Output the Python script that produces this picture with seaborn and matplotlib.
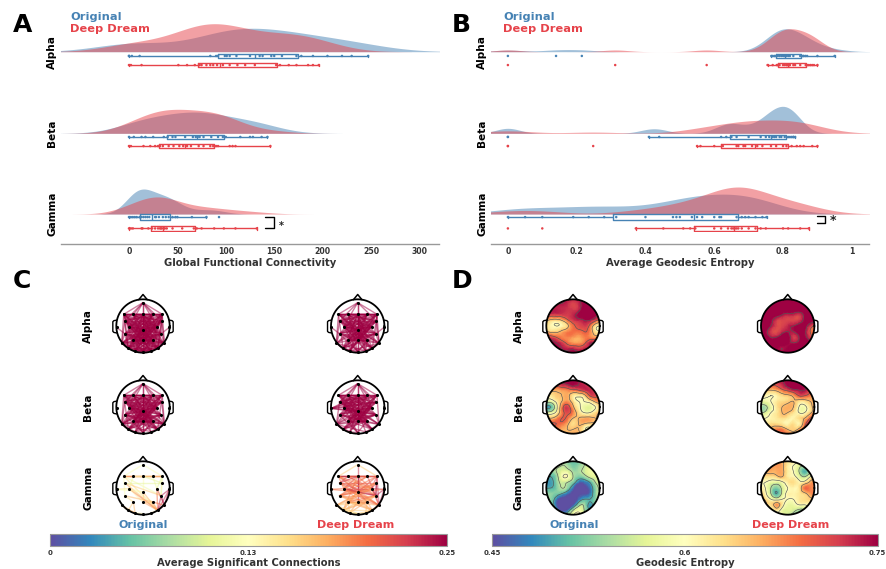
import numpy as np
import pandas as pd
import matplotlib
matplotlib.use('Agg')
import matplotlib.pyplot as plt
import matplotlib.tri as mtri
import seaborn as sns

# panel A values
gfc_alpha_orig = [0, 0, 3, 11, 84, 90, 92, 99, 101, 104, 111, 125, 135, 138, 147, 150, 158, 173, 178, 190, 205, 220, 230, 247]
gfc_alpha_dream = [0, 2, 13, 51, 60, 68, 73, 75, 80, 84, 87, 91, 97, 104, 112, 120, 130, 152, 156, 165, 173, 185, 190, 196]
gfc_beta_orig = [0, 5, 13, 17, 25, 36, 40, 45, 48, 58, 66, 69, 71, 73, 77, 85, 92, 97, 100, 115, 125, 128, 137, 143]
gfc_beta_dream = [0, 2, 15, 22, 27, 30, 32, 35, 41, 46, 52, 56, 60, 64, 72, 77, 84, 87, 90, 92, 104, 107, 110, 146]
gfc_gamma_orig = [0, 2, 4, 6, 8, 11, 11.5, 13, 15, 17, 19, 21, 27, 28, 31, 35, 38, 41, 45, 48, 50, 65, 80, 93]
gfc_gamma_dream = [0, 2, 4, 13, 14, 20, 24, 27, 30, 32, 33, 34, 36, 37, 39, 45, 55, 67, 70, 75, 88, 98, 110, 132]

# panel B values
age_alpha_orig = [0, .14, .215, .766, .77, .775, .78, .785, .79, .795, .80, .803, .807, .81, .815, .82, .83, .85, .858, .86, .865, .87, .90, .95]
age_alpha_dream = [0, .312, .578, .755, .77, .782, .785, .79, .80, .805, .81, .812, .818, .82, .83, .835, .85, .866, .87, .875, .88, .885, .89, .90]
age_beta_orig = [0, 0, .41, .44, .62, .635, .65, .665, .70, .735, .75, .76, .77, .775, .78, .79, .795, .805, .815, .82, .825, .83, .83, .835]
age_beta_dream = [0, 0, .248, .55, .56, .60, .625, .665, .67, .685, .69, .71, .725, .74, .765, .78, .80, .81, .825, .84, .85, .86, .885, .90]
age_gamma_orig = [0, .05, .10, .19, .235, .28, .315, .40, .48, .49, .50, .535, .55, .565, .60, .615, .62, .665, .68, .69, .70, .72, .74, .752]
age_gamma_dream = [0, .10, .372, .452, .51, .53, .545, .60, .62, .64, .65, .655, .66, .665, .67, .68, .70, .72, .735, .75, .80, .815, .85, .875]

gfc_bw = [(1.0, 1.05), (1.15, 1.15), (.9, 1.05)]
age_bw = [(.34, .36), (.28, .55), (.75, .7)]
gfc_peak_px = [28, 24, 25]
age_peak_px = [23, 27, 27]

bands = ['Alpha', 'Beta', 'Gamma']
conditions = ['Original', 'Deep Dream']
palette = {'Original': 'steelblue', 'Deep Dream': '#e6434a'}

gfc_ticks = [0, 50, 100, 150, 200, 250, 300]
age_ticks = [0, .2, .4, .6, .8, 1]
age_tick_labels = ['0', '0.2', '0.4', '0.6', '0.8', '1']

# electrodes on the head, unit radius
elec_x = [0, -.72, -.36, 0, .36, .72, -.68, .7, -.99, -.52, .52, .99, 0, -.68, .68, -.36, 0, .36, -.8, .8, -.55, .55, -.3, 0, .3]
elec_y = [.875, .44, .44, .44, .44, .44, .19, .19, -.05, -.02, -.02, -.05, -.15, -.29, -.29, -.52, -.52, -.52, -.65, -.65, -.84, -.84, -.93, -.96, -.93]

# significant connections, targets listed per electrode
alpha_orig_links = [[1, 2, 3, 4, 5, 6, 7, 9, 12, 14], [2, 3, 4, 5, 7, 9, 10, 12, 14, 15, 17, 18, 19, 20, 21, 22, 24], [3, 4, 5, 7, 10, 12, 14, 16, 19, 21, 23],
                    [4, 5, 6, 9, 10, 12, 13, 14, 15, 16, 17, 19, 20, 21, 22, 23, 24], [5, 6, 9, 12, 13, 15, 16, 18, 20, 21, 22, 23],
                    [6, 7, 9, 10, 12, 13, 14, 15, 16, 17, 18, 19, 20, 21, 22, 24], [7, 10, 12, 14, 17, 18, 19, 20, 21, 24], [9, 12, 13, 15, 16, 18, 19, 20, 21, 22, 23],
                    [13], [10, 12, 14, 16, 17, 19, 21, 23, 24], [12, 13, 15, 16, 18, 20, 22, 23], [14],
                    [13, 14, 15, 16, 17, 18, 19, 20, 21, 22, 23, 24], [14, 16, 17, 18, 19, 20, 21, 23, 24], [15, 16, 18, 19, 20, 21, 22, 23],
                    [16, 17, 19, 20, 21, 22, 23, 24], [17, 18, 19, 20, 21, 22, 24], [18, 19, 20, 21, 22, 23, 24], [19, 20, 22, 23, 24],
                    [21, 22, 23, 24], [21, 22, 23, 24], [22, 23, 24], [23, 24], [24], []]
alpha_dream_links = [[1, 3, 5, 6, 7, 9, 12], [2, 3, 4, 5, 7, 10, 12, 14, 17, 18, 19, 20, 21], [3, 4, 5, 7, 12, 14, 16, 19, 23],
                     [4, 5, 6, 9, 10, 12, 13, 14, 15, 16, 17, 20, 21, 23, 24], [5, 6, 9, 12, 13, 15, 16, 18, 22],
                     [6, 7, 9, 12, 13, 14, 15, 16, 18, 19, 20, 21, 22], [7, 10, 12, 14, 17, 18, 19, 21, 24], [9, 12, 13, 15, 16, 18, 19, 20, 22],
                     [13], [10, 12, 14, 16, 17, 21, 23], [12, 13, 15, 16, 20, 22], [14],
                     [13, 14, 15, 16, 17, 19, 20, 21, 22, 23, 24], [14, 16, 17, 18, 21, 23], [15, 16, 18, 19, 20, 23],
                     [16, 17, 20, 22, 23], [17, 19, 21, 22, 24], [19, 20, 23, 24], [20, 22, 24], [21, 22, 24], [22, 23], [23, 24], [23], [], []]
beta_orig_links = [[1, 2, 3, 4, 5, 6, 7, 9, 10, 12], [2, 3, 4, 5, 7, 9, 10, 12, 14, 16, 18, 19, 20, 21], [3, 4, 6, 9, 10, 12, 14, 16, 17, 21],
                   [4, 5, 6, 9, 10, 12, 13, 14, 15, 16, 17, 18, 19, 23], [6, 7, 9, 10, 12, 13, 15, 16, 18, 20],
                   [6, 9, 12, 13, 15, 16, 18, 19, 20, 21, 22], [7, 10, 12, 14, 17, 18, 19, 21, 24], [9, 12, 13, 15, 16, 18, 19, 20],
                   [], [10, 12, 14, 16, 17, 19, 21, 23], [12, 13, 15, 16, 18, 20, 22], [],
                   [13, 14, 15, 16, 17, 18, 19, 20, 21, 22, 24], [14, 16, 17, 18, 19, 21, 23], [15, 16, 18, 19, 20, 23],
                   [16, 17, 19, 21, 23], [17, 18, 19, 20, 21, 23], [18, 19, 20, 22, 23], [20, 22, 24], [21, 22, 24], [22], [24], [23], [], []]
beta_dream_links = [[1, 2, 3, 4, 5, 6, 7, 9, 10, 12], [2, 3, 4, 5, 7, 10, 12, 14, 16, 19, 21], [3, 4, 6, 9, 10, 12, 14, 16, 17],
                    [4, 5, 6, 8, 9, 10, 12, 13, 14, 15, 16, 17, 18, 23], [6, 8, 9, 10, 12, 13, 15, 16, 18],
                    [6, 8, 9, 12, 13, 15, 16, 19, 20, 22], [7, 10, 12, 14, 17, 18, 19, 21], [8, 9, 12, 13, 15, 16, 20],
                    [9, 12, 14], [10, 12, 14, 16, 17, 21, 23], [12, 13, 15, 16, 18, 20, 22], [],
                    [13, 14, 15, 16, 17, 18, 19, 20, 21, 22, 24], [14, 16, 17, 18, 19, 23], [15, 16, 18, 19, 20],
                    [16, 17, 21, 23], [17, 19, 20, 21], [18, 20, 23], [20, 22, 24], [21, 24], [22], [24], [23], [], []]
gamma_orig_links = [[1, 5], [2, 3, 4, 5, 13, 14, 21], [3, 4, 9], [4, 5, 7, 12], [5, 10], [14, 10, 7], [14, 21, 7], [14], [9, 12], [12, 16, 21, 17],
                    [14, 19, 21], [14, 19, 21], [16, 21], [15, 17], [19, 21], [20, 22], [17, 21], [19, 21], [20, 22], [21], [22], [24], [23], [], []]
gamma_orig_values = [[.12, .12], [.15, .19, .14, .2, .12, .11, .15], [.16, .13, .11], [.14, .18, .1, .12], [.17, .11], [.12, .1, .11], [.16, .18, .1], [.11],
                     [.15, .12], [.13, .14, .19, .13], [.13, .22, .2], [.24, .25, .23], [.16, .17], [.15, .17], [.25, .24], [.16, .17], [.16, .18],
                     [.2, .18], [.18, .17], [.25], [.18], [.15], [.14], [], []]
gamma_dream_links = [[1, 3, 5], [2, 3, 4, 5, 9, 10, 12, 14, 19], [3, 4, 6, 10, 14], [4, 5, 6, 9, 10, 12, 16, 20], [5, 9, 13, 14], [10, 12, 13, 14, 19], [7, 10, 14, 17, 19],
                     [10, 12, 13, 14, 18], [9, 12], [10, 12, 14, 19, 21], [11, 13, 14, 15, 18, 19], [14, 19, 12], [13, 14, 15, 17, 19, 20], [14, 16, 17, 21], [15, 16, 19, 20, 22],
                     [16, 17, 18, 19, 20, 21, 22], [17, 20, 21, 22], [18, 19, 20, 21, 24], [20, 22, 23], [21, 24], [21, 22, 23], [23, 24], [23], [24], []]
gamma_dream_values = [[.16, .23, .16], [.17, .22, .2, .25, .2, .19, .21, .2, .19], [.2, .21, .22, .2, .19], [.22, .2, .23, .21, .2, .24, .25, .19], [.21, .2, .2, .22], [.22, .21, .2, .23, .23],
                      [.21, .2, .22, .19, .19], [.22, .2, .2, .24, .18], [.2, .2], [.22, .24, .21, .2, .19], [.23, .2, .24, .18, .18, .21], [.24, .24, .2],
                      [.2, .24, .18, .21, .2, .18], [.19, .18, .19, .18], [.2, .19, .22, .17, .18], [.2, .2, .17, .17, .17, .18, .16], [.22, .17, .17, .18],
                      [.16, .2, .18, .18, .17], [.16, .16, .15], [.21, .17], [.16, .16, .15], [.16, .17], [.15], [.15], []]

# geodesic entropy read on a grid over the head, rows top to bottom
ent_alpha_orig = [[.74, .74, .74, .74, .74, .74, .74, .74, .74, .74, .74],
                  [.74, .74, .74, .74, .73, .715, .73, .75, .75, .75, .75],
                  [.74, .74, .735, .73, .725, .72, .73, .76, .76, .76, .75],
                  [.73, .72, .72, .72, .72, .73, .75, .76, .76, .75, .74],
                  [.67, .64, .63, .65, .69, .72, .73, .74, .74, .71, .68],
                  [.64, .61, .60, .61, .64, .69, .71, .72, .69, .62, .60],
                  [.66, .64, .64, .66, .68, .69, .69, .70, .68, .62, .62],
                  [.73, .72, .70, .68, .68, .67, .66, .68, .68, .67, .70],
                  [.75, .75, .74, .72, .69, .67, .67, .69, .73, .74, .74],
                  [.75, .75, .75, .74, .73, .73, .72, .73, .74, .75, .75],
                  [.75, .75, .75, .75, .75, .75, .75, .75, .75, .75, .75]]
ent_alpha_dream = [[.76, .76, .76, .76, .76, .76, .76, .76, .76, .76, .76],
                   [.76, .76, .76, .76, .76, .76, .76, .76, .76, .76, .76],
                   [.76, .76, .76, .76, .76, .76, .76, .76, .76, .76, .76],
                   [.76, .76, .76, .755, .74, .73, .73, .72, .75, .77, .77],
                   [.76, .76, .75, .72, .715, .715, .715, .72, .75, .76, .75],
                   [.76, .76, .74, .715, .715, .73, .74, .755, .755, .72, .69],
                   [.76, .75, .72, .71, .73, .74, .74, .76, .75, .70, .67],
                   [.76, .76, .74, .74, .76, .76, .72, .74, .75, .72, .70],
                   [.76, .76, .76, .76, .76, .75, .74, .75, .76, .75, .74],
                   [.76, .76, .76, .75, .74, .75, .76, .76, .76, .76, .76],
                   [.76, .76, .76, .76, .76, .76, .76, .76, .76, .76, .76]]
ent_beta_orig = [[.74, .74, .74, .74, .74, .74, .74, .74, .74, .74, .74],
                 [.72, .72, .72, .73, .74, .75, .74, .73, .72, .72, .72],
                 [.66, .66, .66, .67, .68, .69, .70, .72, .73, .72, .70],
                 [.62, .62, .64, .65, .66, .62, .61, .63, .70, .71, .68],
                 [.58, .57, .61, .65, .67, .63, .60, .60, .62, .66, .67],
                 [.50, .50, .58, .68, .72, .66, .61, .58, .57, .60, .65],
                 [.56, .57, .61, .68, .71, .68, .63, .60, .60, .63, .66],
                 [.66, .65, .67, .70, .69, .65, .65, .66, .66, .65, .66],
                 [.71, .71, .70, .69, .66, .63, .65, .65, .64, .65, .67],
                 [.69, .69, .68, .66, .65, .65, .65, .61, .59, .65, .66],
                 [.66, .66, .66, .66, .66, .66, .66, .66, .66, .66, .66]]
ent_beta_dream = [[.74, .74, .74, .74, .74, .74, .74, .74, .74, .74, .74],
                  [.70, .70, .70, .71, .73, .75, .76, .76, .74, .72, .70],
                  [.65, .65, .65, .66, .69, .71, .73, .74, .74, .71, .67],
                  [.62, .61, .60, .61, .63, .64, .66, .70, .70, .68, .64],
                  [.58, .58, .60, .62, .63, .64, .65, .63, .63, .65, .66],
                  [.54, .54, .58, .62, .65, .66, .65, .60, .59, .63, .68],
                  [.55, .56, .60, .62, .65, .65, .63, .60, .60, .64, .68],
                  [.60, .60, .61, .62, .63, .62, .61, .63, .65, .70, .74],
                  [.62, .62, .63, .63, .62, .61, .63, .61, .68, .74, .76],
                  [.66, .66, .66, .68, .68, .65, .64, .66, .71, .74, .75],
                  [.68, .68, .68, .68, .68, .68, .68, .68, .68, .68, .68]]
ent_gamma_orig = [[.53, .53, .53, .53, .52, .51, .52, .55, .56, .56, .56],
                  [.54, .54, .54, .55, .54, .52, .53, .55, .57, .57, .57],
                  [.53, .53, .55, .57, .57, .54, .54, .56, .58, .58, .58],
                  [.50, .50, .53, .59, .60, .55, .52, .53, .56, .57, .57],
                  [.49, .49, .52, .56, .55, .52, .47, .47, .50, .55, .56],
                  [.50, .50, .52, .55, .53, .47, .43, .44, .47, .53, .56],
                  [.53, .53, .52, .50, .47, .44, .44, .45, .47, .53, .55],
                  [.54, .53, .48, .44, .44, .44, .47, .50, .50, .53, .56],
                  [.56, .54, .47, .43, .43, .46, .53, .54, .49, .53, .56],
                  [.57, .56, .50, .45, .47, .55, .59, .55, .50, .53, .56],
                  [.57, .57, .55, .54, .57, .60, .61, .57, .55, .55, .56]]
ent_gamma_dream = [[.67, .67, .67, .67, .65, .63, .62, .60, .58, .58, .60],
                   [.67, .67, .67, .67, .66, .62, .60, .57, .55, .58, .62],
                   [.67, .66, .66, .66, .66, .62, .60, .55, .50, .55, .62],
                   [.64, .63, .63, .64, .65, .62, .61, .58, .55, .60, .65],
                   [.60, .60, .58, .57, .59, .62, .63, .61, .62, .66, .68],
                   [.62, .60, .55, .52, .56, .60, .61, .62, .69, .68, .68],
                   [.65, .61, .55, .50, .56, .61, .61, .62, .64, .67, .68],
                   [.68, .64, .60, .58, .60, .60, .60, .62, .63, .64, .66],
                   [.69, .66, .63, .67, .62, .58, .58, .60, .60, .62, .65],
                   [.67, .63, .60, .62, .58, .57, .56, .54, .55, .61, .65],
                   [.66, .63, .60, .60, .59, .56, .53, .52, .55, .60, .64]]
ent_levels = [.5, .55, .6, .65, .7, .74]

sns.set_theme(style='white')
plt.rcParams['font.family'] = 'DejaVu Sans'
plt.rcParams['font.weight'] = 'bold'
cmap = sns.color_palette('Spectral_r', as_cmap=True)

W, H = 886, 569
fig = plt.figure(figsize=(W / 100, H / 100), dpi=100)


def px_axes(x0, y0, x1, y1):
    # axes from pixel box, y counted from the top
    return fig.add_axes([x0 / W, 1 - y1 / H, (x1 - x0) / W, (y1 - y0) / H])


def text_px(x, y, s, **kw):
    fig.text(x / W, 1 - y / H, s, ha=kw.pop('ha', 'center'), va='center', fontweight='bold', **kw)


def raincloud(x0, x1, xlim, baseline, box_y, orig, dream, bw, peak):
    ax = px_axes(x0, baseline - 40, x1, baseline)
    sns.kdeplot(x=orig, color=palette['Original'], fill=True, alpha=.5, linewidth=0, bw_adjust=bw[0], ax=ax)
    sns.kdeplot(x=dream, color=palette['Deep Dream'], fill=True, alpha=.5, linewidth=0, bw_adjust=bw[1], ax=ax)
    top = max(c.get_paths()[0].vertices[:, 1].max() for c in ax.collections)
    ax.set_xlim(xlim)
    ax.set_ylim(0, top * 40 / peak)
    ax.axis('off')

    df = pd.DataFrame({'value': orig + dream,
                       'condition': ['Original'] * len(orig) + ['Deep Dream'] * len(dream)})
    bx = px_axes(x0, box_y[0] - 4.6, x1, box_y[1] + 4.6)
    sns.boxplot(data=df, x='value', y='condition', hue='condition', order=conditions, palette=palette,
                fill=False, width=.5, linewidth=1, showfliers=False, capwidths=.2, legend=False, ax=bx)
    sns.stripplot(data=df, x='value', y='condition', hue='condition', order=conditions, palette=palette,
                  size=1.8, jitter=False, legend=False, ax=bx)
    bx.set_xlim(xlim)
    bx.axis('off')
    return bx


def cloud_panel(x0, x1, xlim, values, bws, peaks, ticks, tick_labels, xlabel, label_x, letter, letter_x, legend_x, bracket, star):
    baselines = [51.7, 133.3, 214]
    box_rows = [(56, 65), (137, 146), (218, 227.5)]
    for i, band in enumerate(bands):
        bx = raincloud(x0, x1, xlim, baselines[i], box_rows[i], values[i][0], values[i][1], bws[i], peaks[i])
        text_px(label_x, baselines[i], band, rotation=90, fontsize=7.6, color='black')
    bx.plot([bracket[0], bracket[1], bracket[1], bracket[0]], [bracket[2], bracket[2], bracket[3], bracket[3]],
            color='black', lw=1, clip_on=False)
    bx.text(star[0], star[1], '*', fontsize=star[2], fontweight='bold', ha='center', va='center', color='#222222')

    frame = px_axes(x0, 200, x1, 243.5)
    frame.patch.set_alpha(0)
    sns.despine(ax=frame, left=True)
    frame.spines['bottom'].set_color('#999999')
    frame.spines['bottom'].set_linewidth(1)
    frame.set_xlim(xlim)
    frame.set_yticks([])
    frame.set_xticks(ticks)
    frame.set_xticklabels(tick_labels, fontsize=5.6, fontweight='bold', color='#333333')
    frame.tick_params(axis='x', length=0, pad=2.5)
    frame.set_xlabel(xlabel, fontsize=7.2, fontweight='bold', color='#333333', labelpad=1.5)
    text_px(letter_x, 25, letter, fontsize=18, color='black', ha='left')
    text_px(legend_x, 17.5, 'Original', fontsize=8.2, color=palette['Original'], ha='left')
    text_px(legend_x, 29, 'Deep Dream', fontsize=8.2, color=palette['Deep Dream'], ha='left')


def head_axes(cx, cy):
    r = 26.7
    ax = px_axes(cx - 1.35 * r, cy - 1.35 * r, cx + 1.35 * r, cy + 1.35 * r)
    ax.set_xlim(-1.35, 1.35)
    ax.set_ylim(-1.35, 1.35)
    ax.axis('off')
    return ax


def head_outline(ax):
    t = np.linspace(0, 2 * np.pi, 200)
    ax.plot(np.cos(t), np.sin(t), color='black', lw=1.3, zorder=6)
    ax.plot([-.16, 0, .16], [.985, 1.18, .985], color='black', lw=1.1, zorder=6)
    for s in (-1, 1):
        ax.plot([s * .99, s * 1.09, s * 1.13, s * 1.13, s * 1.09, s * .99], [.22, .2, .16, -.2, -.24, -.26],
                color='black', lw=1, zorder=6)


def connect_map(cx, cy, links, values=None):
    ax = head_axes(cx, cy)
    for i, targets in enumerate(links):
        for k, j in enumerate(targets):
            v = .25 if values is None else values[i][k]
            ax.plot([elec_x[i], elec_x[j]], [elec_y[i], elec_y[j]], color=cmap(v / .25), lw=1, alpha=.5,
                    solid_capstyle='round', zorder=2)
    ax.scatter(elec_x, elec_y, s=5, color='black', linewidths=0, zorder=5)
    head_outline(ax)


def entropy_map(cx, cy, grid):
    ax = head_axes(cx, cy)
    gx, gy = np.meshgrid(np.linspace(-1.05, 1.05, 11), np.linspace(1.05, -1.05, 11))
    tri = mtri.Triangulation(gx.ravel(), gy.ravel())
    fine, z = mtri.UniformTriRefiner(tri).refine_field(np.array(grid).ravel(), subdiv=3)
    clip = plt.Circle((0, 0), 1, transform=ax.transData)
    mesh = ax.tripcolor(fine, z, shading='gouraud', cmap=cmap, vmin=.45, vmax=.75, zorder=1)
    mesh.set_clip_path(clip)
    lines = ax.tricontour(fine, z, levels=ent_levels, colors='#555555', linewidths=.45, zorder=2)
    lines.set_clip_path(clip)
    ax.set_xlim(-1.35, 1.35)
    ax.set_ylim(-1.35, 1.35)
    head_outline(ax)


def colorbar(x0, x1, vmin, vmax, ticks, labels, title):
    cax = px_axes(x0, 534.3, x1, 546)
    sm = plt.cm.ScalarMappable(norm=plt.Normalize(vmin, vmax), cmap=cmap)
    cb = fig.colorbar(sm, cax=cax, orientation='horizontal')
    cb.set_ticks(ticks)
    cb.set_ticklabels(labels, fontsize=5, fontweight='bold', color='#333333')
    cb.ax.tick_params(length=3, width=.6, color='#888888', direction='in', pad=3)
    cb.outline.set_edgecolor('#999999')
    cb.outline.set_linewidth(.8)
    text_px((x0 + x1) / 2, 563, title, fontsize=7.2, color='#333333')


cloud_panel(61, 439, (-70.2, 320.2),
            [(gfc_alpha_orig, gfc_alpha_dream), (gfc_beta_orig, gfc_beta_dream), (gfc_gamma_orig, gfc_gamma_dream)],
            gfc_bw, gfc_peak_px, gfc_ticks, [str(t) for t in gfc_ticks], 'Global Functional Connectivity',
            52, 'A', 13, 70.5, (141, 150, 0, 1), (157, .75, 7))
cloud_panel(490.7, 869, (-.05, 1.05),
            [(age_alpha_orig, age_alpha_dream), (age_beta_orig, age_beta_dream), (age_gamma_orig, age_gamma_dream)],
            age_bw, age_peak_px, age_ticks, age_tick_labels, 'Average Geodesic Entropy',
            482, 'B', 452, 503, (.9, .921, -.1, .5), (.945, .3, 9))

rows_y = [326, 407, 488]
link_maps = [(alpha_orig_links, alpha_dream_links, None, None),
             (beta_orig_links, beta_dream_links, None, None),
             (gamma_orig_links, gamma_dream_links, gamma_orig_values, gamma_dream_values)]
ent_maps = [(ent_alpha_orig, ent_alpha_dream), (ent_beta_orig, ent_beta_dream), (ent_gamma_orig, ent_gamma_dream)]
for i, band in enumerate(bands):
    connect_map(143, rows_y[i], link_maps[i][0], link_maps[i][2])
    connect_map(357.7, rows_y[i], link_maps[i][1], link_maps[i][3])
    entropy_map(573, rows_y[i], ent_maps[i][0])
    entropy_map(787.7, rows_y[i], ent_maps[i][1])
    text_px(88, rows_y[i], band, rotation=90, fontsize=7.6, color='black')
    text_px(519, rows_y[i], band, rotation=90, fontsize=7.6, color='black')

text_px(13, 281, 'C', fontsize=18, color='black', ha='left')
text_px(452, 281, 'D', fontsize=18, color='black', ha='left')
for x, name in [(143, 'Original'), (356, 'Deep Dream'), (574, 'Original'), (791, 'Deep Dream')]:
    text_px(x, 525, name, fontsize=8, color=palette[name])

colorbar(50.3, 447, 0, .25, [0, .125, .25], ['0', '0.13', '0.25'], 'Average Significant Connections')
colorbar(492, 877.7, .45, .75, [.45, .6, .75], ['0.45', '0.6', '0.75'], 'Geodesic Entropy')

fig.savefig('out.png', dpi=100)
